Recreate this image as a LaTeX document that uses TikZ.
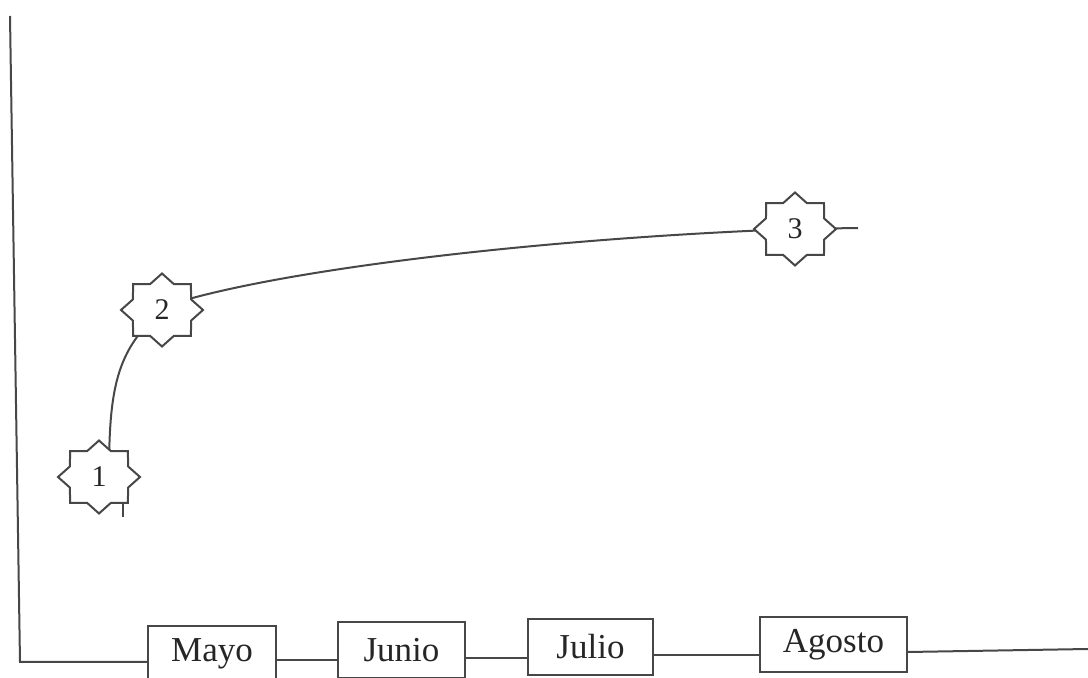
\documentclass[tikz,border=0pt]{standalone}
\usepackage{fontspec}
\setmainfont{Liberation Serif}
\usetikzlibrary{calc,shapes.geometric}
\pgfdeclarelayer{bg}
\pgfdeclarelayer{mid}
\pgfsetlayers{bg,mid,main}
\definecolor{ink}{gray}{0.28}
\tikzset{
  conn/.style={draw=ink, line width=1pt},
  month/.style={draw=ink, line width=1pt, fill=white, rectangle, minimum height=28pt, inner sep=0pt, font=\fontsize{17.5}{20}\selectfont, text=black!85},
  starnode/.style={ellipse, minimum width=41pt, minimum height=36.5pt, inner sep=0pt, font=\fontsize{15}{18}\selectfont, text=black!85},
  starline/.style={draw=ink, line width=1pt, fill=white, line join=miter}
}
\newcommand\octagram[1]{%
  \begin{scope}[shift={(#1.center)}]
    \path[starline] (0:41 and 36.5) \foreach \a in {0,45,...,315}{ -- ({\a+22.5}:31.4 and 27.9) -- ({\a+45}:41 and 36.5)} -- cycle;
  \end{scope}}
\begin{document}
\begin{tikzpicture}[x=0.5pt,y=-0.5pt]
\useasboundingbox (0,0) rectangle (1088,678);
\clip (0,0) rectangle (1088,678);

% month boxes
\node[month, minimum width=64pt]   (mayo)   at (212,654)   {Mayo};
\node[month, minimum width=63.5pt] (junio)  at (401.5,650) {Junio};
\node[month, minimum width=62.5pt] (julio)  at (590.5,647) {Julio};
\node[month, minimum width=73.5pt, minimum height=27.5pt] (agosto) at (833.5,644.5) {Agosto};

% stars (text only; outlines on mid layer)
\node[starnode] (s1) at (99,477)  {1};
\node[starnode] (s2) at (162,310) {2};
\node[starnode] (s3) at (795,229) {3};

\coordinate (top) at (10,16);
\coordinate (corner) at (20,662);
\coordinate (t1) at (123,517);
\coordinate (e3) at (858,228);
\coordinate (rend) at (1088,649);

\begin{pgfonlayer}{bg}
  \draw[conn] (top) -- (corner) -- (corner -| mayo.west);
  \draw[conn] (mayo.east |- 0,660) -- (junio.west |- 0,660);
  \draw[conn] (junio.east |- 0,658) -- (julio.west |- 0,658);
  \draw[conn] (julio.east |- 0,655) -- (agosto.west |- 0,655);
  \draw[conn] (agosto.east |- 0,652) -- (rend);

  \draw[conn] (t1) -- (t1 |- s1.center);
  \draw[conn] ($(s1.center)+(10,0)$) .. controls (109,400) and (114,358) .. ($(s2.center)+(-12,12)$);
  \draw[conn] ($(s2.center)+(13,-7)$) .. controls (290,268) and (550,238) .. (s3.center);
  \draw[conn] (s3.center) -- (e3);
\end{pgfonlayer}

\begin{pgfonlayer}{mid}
  \octagram{s1}
  \octagram{s2}
  \octagram{s3}
\end{pgfonlayer}
\end{tikzpicture}
\end{document}
